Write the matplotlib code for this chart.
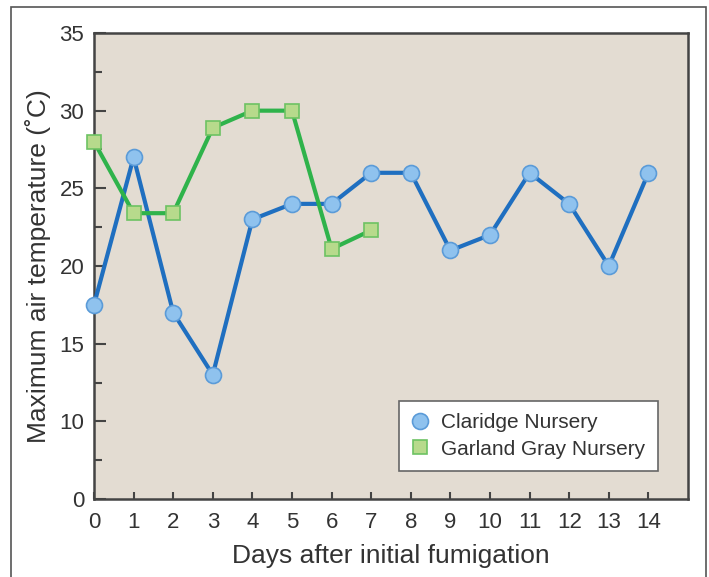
import matplotlib
matplotlib.use('Agg')
import matplotlib.pyplot as plt
from matplotlib.patches import Rectangle
from matplotlib.ticker import MultipleLocator

plt.rcParams['font.family'] = ['Liberation Sans', 'DejaVu Sans']

days = list(range(15))
claridge = [17.5, 27, 17, 13, 23, 24, 24, 26, 26, 21, 22, 26, 24, 20, 26]
garland_days = list(range(8))
garland = [28, 23.4, 23.4, 28.9, 30, 30, 21.1, 22.3]

# axis is broken at the bottom: the lowest tick (at 5) carries the label "0"
y_ticks = [5, 10, 15, 20, 25, 30, 35]
y_labels = ['0', '10', '15', '20', '25', '30', '35']

text_col = '#333333'
spine_col = '#444444'

fig = plt.figure(figsize=(7.09, 5.77), dpi=100)
fig.patch.set_facecolor('white')
ax = fig.add_axes([94 / 709, 1 - 499 / 577, (688 - 94) / 709, (499 - 33) / 577])
ax.set_facecolor('#e3dcd2')

ax.plot(days, claridge, color='#1f6fc0', linewidth=3, marker='o', markersize=11.5,
        markerfacecolor='#8fc2ee', markeredgecolor='#5b9bd8', markeredgewidth=1.2,
        label='Claridge Nursery', clip_on=False, zorder=3)
ax.plot(garland_days, garland, color='#2fb34b', linewidth=3, marker='s', markersize=9.5,
        markerfacecolor='#b7da8c', markeredgecolor='#6dc263', markeredgewidth=1.2,
        label='Garland Gray Nursery', clip_on=False, zorder=4)

ax.set_xlim(0, 15)
ax.set_ylim(5, 35)
ax.set_xticks(days)
ax.set_yticks(y_ticks)
ax.set_yticklabels(y_labels)
ax.yaxis.set_minor_locator(MultipleLocator(2.5))

ax.tick_params(axis='x', direction='in', length=5, width=1.5, color=spine_col,
               labelsize=16, labelcolor=text_col, pad=9)
ax.tick_params(axis='y', which='major', direction='in', length=8.5, width=1.5,
               color=spine_col, labelsize=16, labelcolor=text_col, pad=7)
ax.tick_params(axis='y', which='minor', direction='in', length=5.5, width=1.5,
               color=spine_col)

for s in ax.spines.values():
    s.set_color(spine_col)
    s.set_linewidth(1.8)

ax.set_xlabel('Days after initial fumigation', fontsize=19, color=text_col, labelpad=8)
ax.set_ylabel('Maximum air temperature (˚C)', fontsize=19, color=text_col, labelpad=6)

leg = ax.legend(loc='lower right', bbox_to_anchor=(0.949, 0.06), borderaxespad=0,
                fontsize=15, frameon=True, fancybox=False, framealpha=1,
                handlelength=0.8, handletextpad=0.6, borderpad=0.6, labelspacing=0.35)
leg.get_frame().set_edgecolor('#666666')
leg.get_frame().set_linewidth(1.2)
leg.get_frame().set_facecolor('white')
for t in leg.get_texts():
    t.set_color(text_col)
for h in leg.get_lines():
    h.set_linestyle('none')

# outer border around the whole figure
fig.patches.append(Rectangle((11 / 709, -0.05), (706 - 11) / 709, 1.05 - 7 / 577,
                             transform=fig.transFigure, fill=False,
                             edgecolor='#555555', linewidth=1.2))

plt.savefig('out.png', dpi=100, facecolor='white')
